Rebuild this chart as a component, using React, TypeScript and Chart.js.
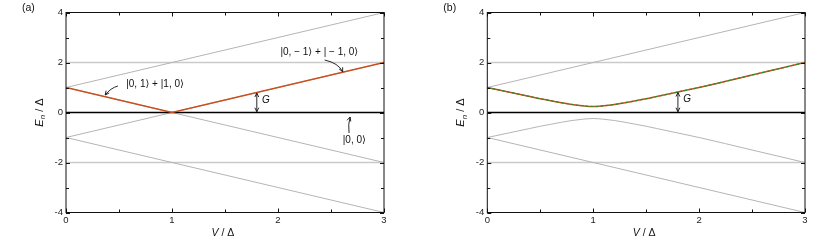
import React, { useEffect, useRef } from "react";
import { Chart, registerables } from "chart.js";
Chart.register(...registerables);

// ---- data ----
const V_ENDS = [0, 3];
const UPPER_OUTER = [1, 4]; // 1 + V
const LOWER_OUTER = [-1, -4]; // -1 - V
const CROSS_DOWN = [1, -2]; // 1 - V
const CROSS_UP = [-1, 2]; // V - 1
const FLAT_TOP = [2, 2];
const FLAT_BOTTOM = [-2, -2];
const ZERO_LEVEL = [0, 0];
const GAP_A_V = [0, 1, 3];
const GAP_A_E = [1, 0, 2];
const CURVE_V = [0, 0.2, 0.4, 0.5, 0.6, 0.7, 0.8, 0.9, 1.0, 1.1, 1.2, 1.3, 1.4, 1.5, 1.6, 1.8, 2.0, 2.5, 3.0];
const CURVE_UP = [1.0, 0.82, 0.64, 0.55, 0.47, 0.39, 0.32, 0.27, 0.24, 0.27, 0.32, 0.39, 0.47, 0.55, 0.64, 0.82, 1.0, 1.5, 2.0];
const CURVE_DOWN = [-1.0, -0.82, -0.64, -0.55, -0.47, -0.39, -0.32, -0.27, -0.24, -0.27, -0.32, -0.39, -0.47, -0.55, -0.64, -0.82, -1.0, -1.5, -2.0];
const X_TICKS = [0, 1, 2, 3];
const Y_TICKS = [-4, -2, 0, 2, 4];

const FONT = "'Liberation Sans', Arial, 'DejaVu Sans', sans-serif";
const GRAY = "#b5b5b5";
const GRAY_FLAT = "#cacaca";
const ORANGE = "#c9501c";
const GREEN = "#2f8a2f";

const pts = (xs: number[], ys: number[]) => xs.map((x, i) => ({ x, y: ys[i] }));

const line = (data: any[], color: string, width: number, extra: any = {}) => ({
  data,
  borderColor: color,
  borderWidth: width,
  pointRadius: 0,
  fill: false,
  tension: 0,
  ...extra,
});

type Ann = {
  tag: string;
  texts: { t: string; v: number; e: number }[];
  arrows: { s: [number, number]; c: [number, number]; e: [number, number] }[];
  gArrow: { v: number; e0: number; e1: number; gv: number; ge: number };
};

function arrowHead(ctx: CanvasRenderingContext2D, x: number, y: number, fx: number, fy: number) {
  const ang = Math.atan2(y - fy, x - fx);
  const L = 4.5;
  const a = 0.45;
  ctx.beginPath();
  ctx.moveTo(x - L * Math.cos(ang - a), y - L * Math.sin(ang - a));
  ctx.lineTo(x, y);
  ctx.lineTo(x - L * Math.cos(ang + a), y - L * Math.sin(ang + a));
  ctx.stroke();
}

function makePlugin(ann: Ann) {
  return {
    id: "decor",
    afterDraw(chart: any) {
      const { ctx, chartArea: ca, scales } = chart;
      const xs = scales.x;
      const ys = scales.y;
      const px = (v: number) => xs.getPixelForValue(v);
      const py = (e: number) => ys.getPixelForValue(e);
      ctx.save();
      // frame
      ctx.strokeStyle = "#111";
      ctx.lineWidth = 1;
      ctx.strokeRect(ca.left, ca.top, ca.right - ca.left, ca.bottom - ca.top);
      // ticks inward
      ctx.beginPath();
      for (let v = 0; v <= 3.0001; v += 0.5) {
        const x = Math.round(px(v)) + 0.5;
        const L = Math.abs(v - Math.round(v)) < 1e-6 ? 4 : 3;
        ctx.moveTo(x, ca.bottom);
        ctx.lineTo(x, ca.bottom - L);
        ctx.moveTo(x, ca.top);
        ctx.lineTo(x, ca.top + L);
      }
      for (let e = -4; e <= 4; e += 1) {
        const y = Math.round(py(e)) + 0.5;
        const L = e % 2 === 0 ? 4 : 3;
        ctx.moveTo(ca.left, y);
        ctx.lineTo(ca.left + L, y);
        ctx.moveTo(ca.right, y);
        ctx.lineTo(ca.right - L, y);
      }
      ctx.stroke();

      // panel tag
      ctx.fillStyle = "#111";
      ctx.font = `10.5px ${FONT}`;
      ctx.textBaseline = "middle";
      ctx.textAlign = "left";
      ctx.fillText(ann.tag, ca.left - 44, 8);

      // x title: V / Δ
      const xc = (ca.left + ca.right) / 2 - 2;
      const ty = 233;
      ctx.font = `italic 10.5px ${FONT}`;
      const wV = ctx.measureText("V").width;
      ctx.font = `10.5px ${FONT}`;
      const rest = " / Δ";
      const wR = ctx.measureText(rest).width;
      let x0 = xc - (wV + wR) / 2;
      ctx.font = `italic 10.5px ${FONT}`;
      ctx.fillText("V", x0, ty);
      ctx.font = `10.5px ${FONT}`;
      ctx.fillText(rest, x0 + wV, ty);

      // y title: E_n / Δ
      ctx.save();
      ctx.translate(ca.left - 26, (ca.top + ca.bottom) / 2);
      ctx.rotate(-Math.PI / 2);
      ctx.font = `italic 11px ${FONT}`;
      const wE = ctx.measureText("E").width;
      ctx.font = `italic 8px ${FONT}`;
      const wn = ctx.measureText("n").width;
      ctx.font = `11px ${FONT}`;
      const wr = ctx.measureText(" / Δ").width;
      x0 = -(wE + wn + wr) / 2;
      ctx.font = `italic 11px ${FONT}`;
      ctx.fillText("E", x0, 0);
      ctx.font = `italic 8px ${FONT}`;
      ctx.fillText("n", x0 + wE, 3);
      ctx.font = `11px ${FONT}`;
      ctx.fillText(" / Δ", x0 + wE + wn, 0);
      ctx.restore();

      // state labels
      ctx.font = `10px ${FONT}`;
      ctx.textAlign = "center";
      for (const t of ann.texts) ctx.fillText(t.t, px(t.v), py(t.e));
      // curved arrows
      ctx.strokeStyle = "#111";
      ctx.lineWidth = 0.9;
      for (const a of ann.arrows) {
        const sx = px(a.s[0]), sy = py(a.s[1]);
        const cx = px(a.c[0]), cy = py(a.c[1]);
        const ex = px(a.e[0]), ey = py(a.e[1]);
        ctx.beginPath();
        ctx.moveTo(sx, sy);
        ctx.quadraticCurveTo(cx, cy, ex, ey);
        ctx.stroke();
        arrowHead(ctx, ex, ey, cx, cy);
      }
      // G double arrow
      const g = ann.gArrow;
      const gx = px(g.v);
      const g0 = py(g.e0), g1 = py(g.e1);
      ctx.beginPath();
      ctx.moveTo(gx, g0);
      ctx.lineTo(gx, g1);
      ctx.stroke();
      arrowHead(ctx, gx, g0, gx, g1);
      arrowHead(ctx, gx, g1, gx, g0);
      ctx.font = `italic 10px ${FONT}`;
      ctx.textAlign = "left";
      ctx.fillText("G", px(g.gv), py(g.ge));
      ctx.restore();
    },
  };
}

function makeConfig(datasets: any[], ann: Ann, yWidth: number, rightPad: number) {
  return {
    type: "line" as const,
    data: { datasets },
    options: {
      animation: false as const,
      responsive: false,
      maintainAspectRatio: false,
      devicePixelRatio: 1,
      layout: { padding: { left: 0, top: 12.5, right: rightPad, bottom: 0 } },
      plugins: { legend: { display: false }, tooltip: { enabled: false } },
      scales: {
        x: {
          type: "linear" as const,
          min: 0,
          max: 3,
          afterBuildTicks: (s: any) => {
            s.ticks = X_TICKS.map((v) => ({ value: v }));
          },
          ticks: { font: { size: 9.5, family: FONT }, color: "#222", padding: 2, maxRotation: 0 },
          grid: { display: false, drawTicks: false },
          border: { display: false },
          afterFit: (s: any) => {
            s.height = 29.5;
          },
        },
        y: {
          type: "linear" as const,
          min: -4,
          max: 4,
          afterBuildTicks: (s: any) => {
            s.ticks = Y_TICKS.map((v) => ({ value: v }));
          },
          ticks: { font: { size: 9.5, family: FONT }, color: "#222", padding: 3 },
          grid: { display: false, drawTicks: false },
          border: { display: false },
          afterFit: (s: any) => {
            s.width = yWidth;
          },
        },
      },
    },
    plugins: [makePlugin(ann)],
  };
}

const ANN_A: Ann = {
  tag: "(a)",
  texts: [
    { t: "|0, − 1⟩ + | − 1, 0⟩", v: 2.39, e: 2.42 },
    { t: "|0, 1⟩ + |1, 0⟩", v: 0.84, e: 1.14 },
    { t: "|0, 0⟩", v: 2.72, e: -1.1 },
  ],
  arrows: [
    { s: [2.44, 2.1], c: [2.57, 1.98], e: [2.61, 1.63] },
    { s: [0.49, 1.06], c: [0.42, 0.98], e: [0.37, 0.7] },
    { s: [2.67, -0.82], c: [2.66, -0.46], e: [2.68, -0.18] },
  ],
  gArrow: { v: 1.8, e0: 0.03, e1: 0.78, gv: 1.85, ge: 0.5 },
};

const ANN_B: Ann = {
  tag: "(b)",
  texts: [],
  arrows: [],
  gArrow: { v: 1.8, e0: 0.03, e1: 0.8, gv: 1.85, ge: 0.52 },
};

function Panel({ which, left, yWidth, rightPad }: { which: "a" | "b"; left: number; yWidth: number; rightPad: number }) {
  const ref = useRef<HTMLCanvasElement>(null);
  useEffect(() => {
    if (!ref.current) return;
    // listed bottom-to-top; reversed because Chart.js draws index 0 on top
    let datasets: any[];
    if (which === "a") {
      datasets = [
        line(pts(V_ENDS, FLAT_TOP), GRAY_FLAT, 1.3),
        line(pts(V_ENDS, FLAT_BOTTOM), GRAY_FLAT, 1.3),
        line(pts(V_ENDS, UPPER_OUTER), GRAY, 1),
        line(pts(V_ENDS, LOWER_OUTER), GRAY, 1),
        line(pts(V_ENDS, CROSS_DOWN), GRAY, 1),
        line(pts(V_ENDS, CROSS_UP), GRAY, 1),
        line(pts(V_ENDS, ZERO_LEVEL), "#000", 1.5),
        line(pts(GAP_A_V, GAP_A_E), ORANGE, 1.5),
      ];
    } else {
      datasets = [
        line(pts(V_ENDS, FLAT_TOP), GRAY_FLAT, 1.3),
        line(pts(V_ENDS, FLAT_BOTTOM), GRAY_FLAT, 1.3),
        line(pts(V_ENDS, UPPER_OUTER), GRAY, 1),
        line(pts(V_ENDS, LOWER_OUTER), GRAY, 1),
        line(pts(CURVE_V, CURVE_DOWN), GRAY, 1, { cubicInterpolationMode: "monotone" }),
        line(pts(V_ENDS, ZERO_LEVEL), "#000", 1.5),
        line(pts(CURVE_V, CURVE_UP), ORANGE, 1.5, { cubicInterpolationMode: "monotone" }),
        line(pts(CURVE_V, CURVE_UP), GREEN, 1.2, { cubicInterpolationMode: "monotone", borderDash: [3, 2] }),
      ];
    }
    datasets.reverse();
    const chart = new Chart(ref.current, makeConfig(datasets, which === "a" ? ANN_A : ANN_B, yWidth, rightPad) as any);
    return () => chart.destroy();
  }, [which, yWidth, rightPad]);
  return (
    <canvas
      ref={ref}
      width={415}
      height={242}
      style={{ position: "absolute", left, top: 0, width: 415, height: 242, display: "block" }}
    />
  );
}

export default function App() {
  return (
    <div style={{ position: "fixed", left: 0, top: 0, width: 830, height: 242, background: "#fff", overflow: "hidden" }}>
      <Panel which="a" left={0} yWidth={66} rightPad={31} />
      <Panel which="b" left={415} yWidth={72.3} rightPad={25} />
    </div>
  );
}
